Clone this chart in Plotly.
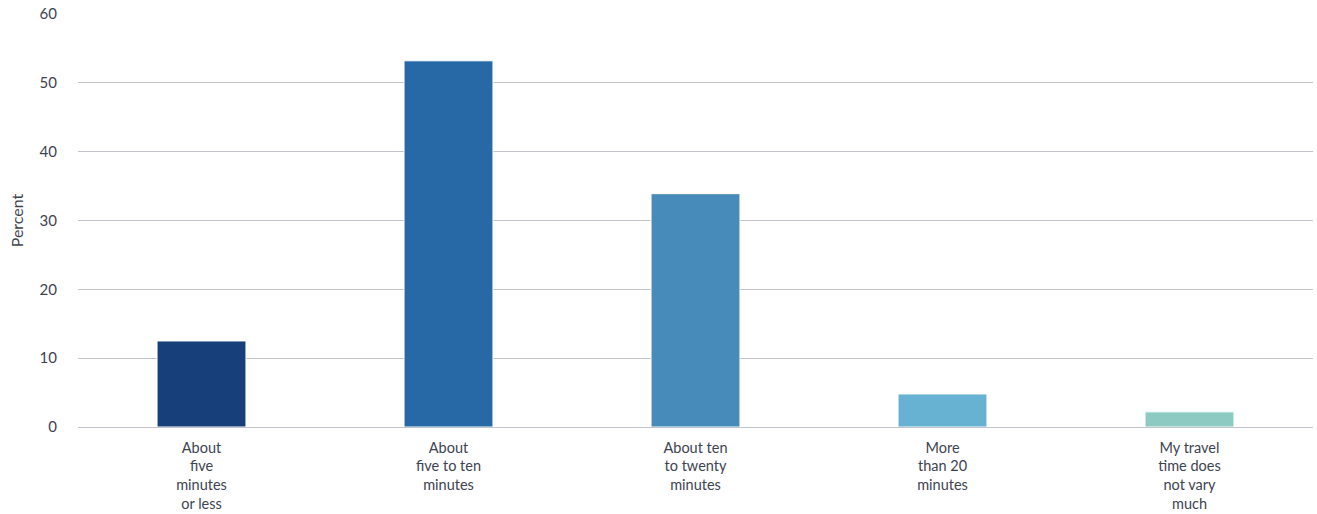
import plotly.graph_objects as go

categories = [
    "About<br>five<br>minutes<br>or less",
    "About<br>five to ten<br>minutes",
    "About ten<br>to twenty<br>minutes",
    "More<br>than 20<br>minutes",
    "My travel<br>time does<br>not vary<br>much",
]
percent = [12.5, 53.2, 33.9, 4.8, 2.2]
bar_colors = ["#17407b", "#2769a6", "#468bba", "#67b2d2", "#8ccac2"]
y_ticks = [0, 10, 20, 30, 40, 50, 60]

text_color = "#3d4451"
grid_color = "#c3c3cb"

fig = go.Figure(
    go.Bar(
        x=categories,
        y=percent,
        marker=dict(color=bar_colors, line=dict(color="white", width=1)),
        hoverinfo="x+y",
    )
)

fig.update_layout(
    width=1317,
    height=514,
    margin=dict(l=78, r=4, t=14, b=87),
    paper_bgcolor="white",
    plot_bgcolor="white",
    bargap=0.64,
    showlegend=False,
    font=dict(family="Lato, 'Open Sans', sans-serif", size=14.5, color=text_color),
)

fig.update_xaxes(
    showgrid=False,
    showline=False,
    ticks="",
    automargin=False,
    ticklabelstandoff=10,
    tickfont=dict(size=14.5, color=text_color),
)

fig.update_yaxes(
    range=[0, 60],
    tickvals=y_ticks,
    showgrid=True,
    gridcolor=grid_color,
    gridwidth=1,
    zeroline=True,
    zerolinecolor=grid_color,
    zerolinewidth=1,
    showline=False,
    ticks="",
    automargin=False,
    ticklabelstandoff=20,
    tickfont=dict(size=15, color=text_color),
    title=dict(text="Percent", font=dict(size=16, color=text_color), standoff=11),
)

fig.write_html("out.html")
